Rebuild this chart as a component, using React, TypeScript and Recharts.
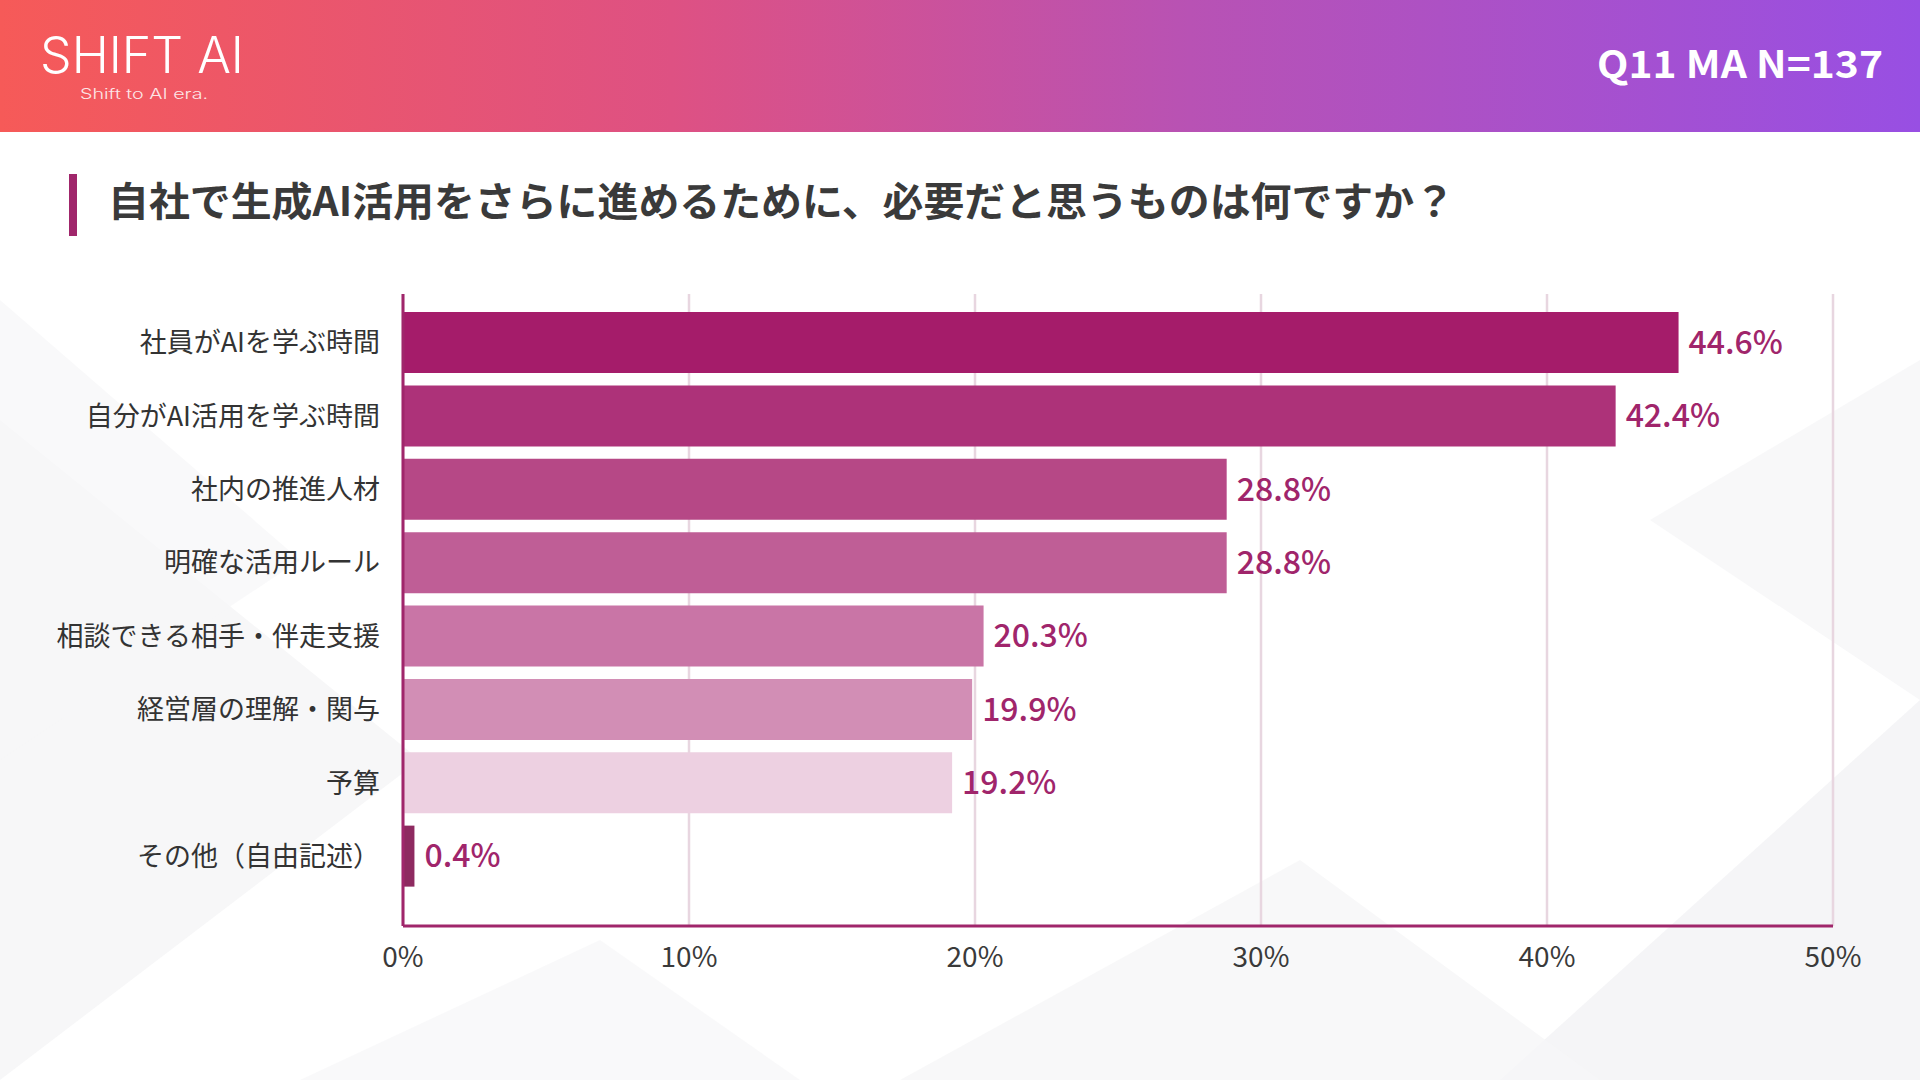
import React from "react";
import {
  BarChart,
  Bar,
  XAxis,
  YAxis,
  CartesianGrid,
  Cell,
  LabelList,
} from "recharts";

const categories = [
  "社員がAIを学ぶ時間",
  "自分がAI活用を学ぶ時間",
  "社内の推進人材",
  "明確な活用ルール",
  "相談できる相手・伴走支援",
  "経営層の理解・関与",
  "予算",
  "その他（自由記述）",
];

const shares = [44.6, 42.4, 28.8, 28.8, 20.3, 19.9, 19.2, 0.4];

const xTicks = [0, 10, 20, 30, 40, 50];

const BAR_COLORS = [
  "#A51C6A",
  "#AD3279",
  "#B64886",
  "#BF5E96",
  "#C975A6",
  "#D28EB5",
  "#EDD0E1",
  "#8E2A60",
];

const ACCENT = "#A0266B";
const FONT = "'Noto Sans CJK JP', 'Noto Sans', sans-serif";

const rows = categories.map((name, i) => ({ name, value: shares[i] }));

function Backdrop() {
  return (
    <svg width={1920} height={1080} style={{ position: "absolute", left: 0, top: 0 }}>
      <defs>
        <linearGradient id="head" x1="0" y1="0" x2="1" y2="0">
          <stop offset="0%" stopColor="#F65A58" />
          <stop offset="35%" stopColor="#DE5183" />
          <stop offset="62%" stopColor="#B852B4" />
          <stop offset="100%" stopColor="#984FE3" />
        </linearGradient>
      </defs>
      <rect x={0} y={0} width={1920} height={1080} fill="#ffffff" />
      {/* faint geometric shapes behind the chart */}
      <polygon points="0,420 420,760 0,1080" fill="#f3f3f5" opacity={0.7} />
      <polygon points="0,300 300,560 0,760" fill="#f6f6f8" opacity={0.7} />
      <polygon points="1500,1080 1920,700 1920,1080" fill="#f2f2f5" opacity={0.8} />
      <polygon points="1650,520 1920,360 1920,700" fill="#f6f6f8" opacity={0.8} />
      <polygon points="900,1080 1300,860 1600,1080" fill="#f6f6f8" opacity={0.8} />
      <polygon points="300,1080 600,940 800,1080" fill="#f7f7f9" opacity={0.8} />
      <rect x={0} y={0} width={1920} height={132} fill="url(#head)" />
      <text
        x={40}
        y={73}
        fill="#ffffff"
        fontFamily="Inter, sans-serif"
        fontWeight={300}
        fontSize={50}
        textLength={204}
        lengthAdjust="spacingAndGlyphs"
      >
        SHIFT AI
      </text>
      <text
        x={80}
        y={99}
        fill="#ffffff"
        opacity={0.85}
        fontFamily="Inter, sans-serif"
        fontWeight={300}
        fontSize={14}
        textLength={128}
        lengthAdjust="spacingAndGlyphs"
      >
        Shift to AI era.
      </text>
      <text
        x={1883}
        y={78}
        fill="#ffffff"
        textAnchor="end"
        fontFamily={FONT}
        fontWeight={700}
        fontSize={38}
        textLength={286}
        lengthAdjust="spacingAndGlyphs"
      >
        Q11 MA N=137
      </text>
      <rect x={69} y={174} width={8} height={62} fill={ACCENT} />
      <text
        x={108}
        y={216}
        fill="#3a3a3a"
        fontFamily={FONT}
        fontWeight={700}
        fontSize={40}
        textLength={1347}
        lengthAdjust="spacingAndGlyphs"
      >
        自社で生成AI活用をさらに進めるために、必要だと思うものは何ですか？
      </text>
    </svg>
  );
}

export default function App() {
  return (
    <div style={{ position: "absolute", left: 0, top: 0, width: 1920, height: 1080, fontFamily: FONT }}>
      <Backdrop />
      <div style={{ position: "absolute", left: 0, top: 0 }}>
        <BarChart
          width={1920}
          height={1080}
          data={rows}
          layout="vertical"
          margin={{ top: 294, right: 87, bottom: 94, left: 0 }}
          barSize={61}
        >
          <CartesianGrid horizontal={false} stroke="#e8d6e0" strokeWidth={2.5} />
          <XAxis
            type="number"
            domain={[0, 50]}
            ticks={xTicks}
            tickFormatter={(v) => `${v}%`}
            axisLine={{ stroke: ACCENT, strokeWidth: 3 }}
            tickLine={false}
            tickMargin={15}
            height={60}
            tick={{ fill: "#3a3a3a", fontSize: 28, fontFamily: FONT }}
          />
          <YAxis
            type="category"
            dataKey="name"
            width={403}
            axisLine={{ stroke: ACCENT, strokeWidth: 3 }}
            tickLine={false}
            tickMargin={17}
            padding={{ top: 12, bottom: 33 }}
            tick={{ fill: "#333333", fontSize: 27, fontFamily: FONT }}
          />
          <Bar dataKey="value" isAnimationActive={false}>
            {rows.map((r, i) => (
              <Cell key={r.name} fill={BAR_COLORS[i]} />
            ))}
            <LabelList
              dataKey="value"
              position="right"
              offset={10}
              formatter={(v: number) => `${v.toFixed(1)}%`}
              style={{ fill: "#A0256B", fontSize: 32, fontWeight: 500, fontFamily: FONT }}
            />
          </Bar>
        </BarChart>
      </div>
    </div>
  );
}
